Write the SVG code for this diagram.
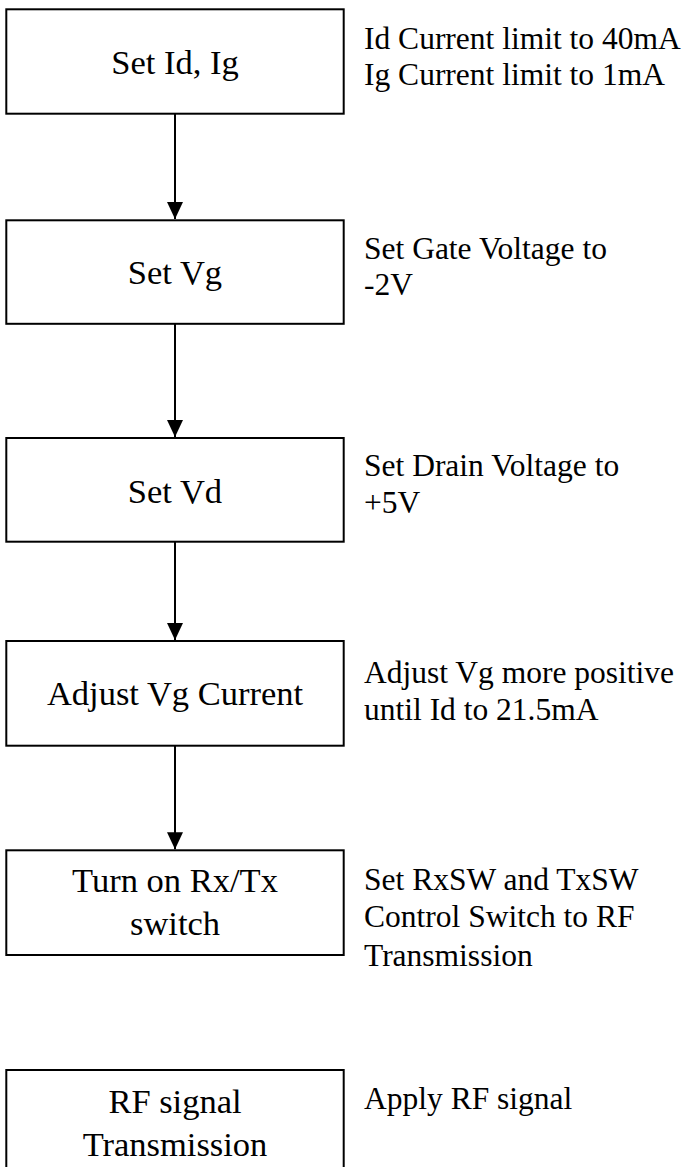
<svg xmlns="http://www.w3.org/2000/svg" width="684" height="1167" viewBox="0 0 684 1167">
  <style>
    .box { fill: #ffffff; stroke: #000000; stroke-width: 2; }
    .step { font-family: 'Liberation Serif', 'Times New Roman', Tinos, 'DejaVu Serif', serif; font-size: 34.5px; fill: #000000; text-anchor: middle; }
    .note { font-family: 'Liberation Serif', 'Times New Roman', Tinos, 'DejaVu Serif', serif; font-size: 31.5px; fill: #000000; }
    .link { stroke: #000000; stroke-width: 2; fill: none; marker-end: url(#arrow); }
  </style>
  <defs>
    <marker id="arrow" markerUnits="userSpaceOnUse" viewBox="0 0 17 16" refX="17" refY="8" markerWidth="17" markerHeight="16" orient="auto">
      <path d="M0,0 L17,8 L0,16 Z" fill="#000000"/>
    </marker>
  </defs>
  <rect width="684" height="1167" fill="#ffffff"/>

  <!-- connectors -->
  <g id="connectors">
    <line class="link" x1="175" y1="114" x2="175" y2="219"/>
    <line class="link" x1="175" y1="324" x2="175" y2="437"/>
    <line class="link" x1="175" y1="542" x2="175" y2="640"/>
    <line class="link" x1="175" y1="746" x2="175" y2="849.3"/>
  </g>

  <!-- process steps -->
  <g id="step-set-id-ig">
    <rect class="box" x="6.3" y="9.3" width="337.4" height="104.4"/>
    <text class="step" x="175" y="74">Set Id, Ig</text>
  </g>
  <g id="step-set-vg">
    <rect class="box" x="6.3" y="220.3" width="337.4" height="103.5"/>
    <text class="step" x="175" y="284">Set Vg</text>
  </g>
  <g id="step-set-vd">
    <rect class="box" x="6.3" y="438" width="337.4" height="103.7"/>
    <text class="step" x="175" y="502.7">Set Vd</text>
  </g>
  <g id="step-adjust-vg">
    <rect class="box" x="6.3" y="641" width="337.4" height="104.7"/>
    <text class="step" x="175" y="705">Adjust Vg Current</text>
  </g>
  <g id="step-rxtx-switch">
    <rect class="box" x="6.3" y="850.3" width="337.4" height="104.7"/>
    <text class="step" x="175" y="892.3">Turn on Rx/Tx</text>
    <text class="step" x="175" y="935">switch</text>
  </g>
  <g id="step-rf-transmission">
    <rect class="box" x="6.3" y="1070" width="337.4" height="110"/>
    <text class="step" x="175" y="1113.3">RF signal</text>
    <text class="step" x="175" y="1156">Transmission</text>
  </g>

  <!-- side notes -->
  <g id="note-1">
    <text class="note" x="364" y="49.3">Id Current limit to 40mA</text>
    <text class="note" x="364" y="85">Ig Current limit to 1mA</text>
  </g>
  <g id="note-2">
    <text class="note" x="364" y="259.3">Set Gate Voltage to</text>
    <text class="note" x="364" y="295">-2V</text>
  </g>
  <g id="note-3">
    <text class="note" x="364" y="476">Set Drain Voltage to</text>
    <text class="note" x="364" y="513">+5V</text>
  </g>
  <g id="note-4">
    <text class="note" x="364" y="683.3">Adjust Vg more positive</text>
    <text class="note" x="364" y="720">until Id to 21.5mA</text>
  </g>
  <g id="note-5">
    <text class="note" x="364" y="890">Set RxSW and TxSW</text>
    <text class="note" x="364" y="927">Control Switch to RF</text>
    <text class="note" x="364" y="966">Transmission</text>
  </g>
  <g id="note-6">
    <text class="note" x="364" y="1109.3">Apply RF signal</text>
  </g>
</svg>
